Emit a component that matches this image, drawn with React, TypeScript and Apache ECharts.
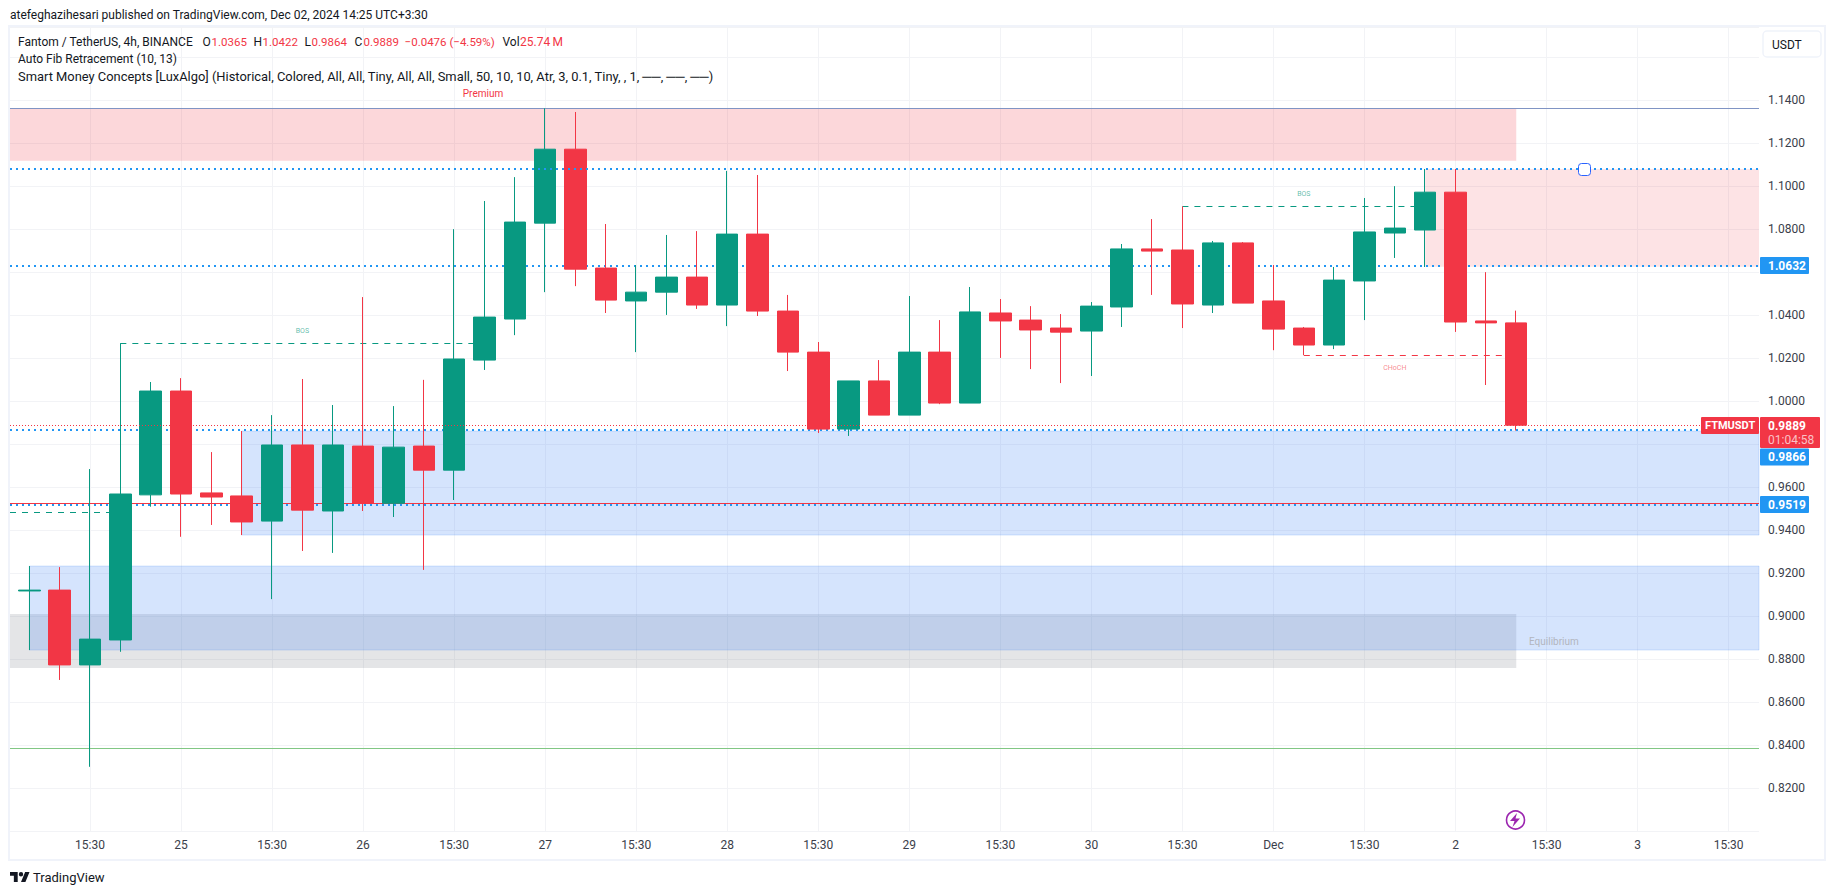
import React, { useEffect, useRef } from "react";
import * as echarts from "echarts";

// Candles, 4h FTM/USDT, oldest first
const opens = [0.9118, 0.9122, 0.8774, 0.889, 0.9565, 1.0048, 0.9574, 0.956, 0.9443, 0.9797, 0.949, 0.9792, 0.9526, 0.9792, 0.968, 1.0192, 1.0383, 1.0829, 1.1173, 1.062, 1.0467, 1.0508, 1.0578, 1.0448, 1.0778, 1.042, 1.0229, 0.9871, 1.0095, 0.9936, 1.0229, 0.9992, 1.0411, 1.0378, 1.0341, 1.0327, 1.0439, 1.0709, 1.0704, 1.0448, 1.0737, 1.0467, 1.0341, 1.0262, 1.056, 1.0783, 1.0797, 1.0973, 1.0374, 1.0365];
const closes = [0.9122, 0.8774, 0.8894, 0.9569, 1.0048, 0.9569, 0.9555, 0.9439, 0.9797, 0.9494, 0.9797, 0.9526, 0.9787, 0.968, 1.0197, 1.0392, 1.0834, 1.1173, 1.0615, 1.0471, 1.0508, 1.0578, 1.0448, 1.0778, 1.042, 1.0229, 0.9871, 1.0095, 0.9936, 1.0229, 0.9992, 1.0416, 1.0374, 1.0332, 1.0322, 1.0443, 1.0709, 1.0699, 1.0453, 1.0737, 1.0457, 1.0336, 1.0262, 1.0564, 1.0788, 1.0806, 1.0973, 1.0369, 1.0365, 0.9889];
const lows = [0.8843, 0.8704, 0.83, 0.8835, 0.951, 0.937, 0.9425, 0.9378, 0.908, 0.9304, 0.9295, 0.949, 0.9462, 0.9216, 0.9541, 1.0146, 1.0308, 1.0508, 1.0536, 1.0411, 1.0229, 1.0402, 1.043, 1.035, 1.0397, 1.0141, 0.9853, 0.9839, 0.9936, 0.9936, 0.9987, 0.9992, 1.0202, 1.015, 1.0085, 1.0118, 1.0346, 1.0495, 1.0341, 1.0411, 1.0457, 1.0238, 1.0215, 1.0243, 1.0378, 1.0667, 1.0625, 1.0323, 1.0076, 0.9864];
const highs = [0.9234, 0.9229, 0.9685, 1.027, 1.009, 1.0108, 0.9764, 0.9862, 0.9936, 1.0104, 0.9983, 1.0485, 0.9978, 1.01, 1.0801, 1.0932, 1.1043, 1.1363, 1.1346, 1.0825, 1.0634, 1.0774, 1.0792, 1.1072, 1.1053, 1.0495, 1.0276, 1.0095, 1.0192, 1.049, 1.0378, 1.0532, 1.0476, 1.0443, 1.0406, 1.0462, 1.0732, 1.0848, 1.0907, 1.0746, 1.0741, 1.0634, 1.0346, 1.0625, 1.0946, 1.1001, 1.1081, 1.1081, 1.0601, 1.0422];

// Time axis: candle positions that carry a label, and their labels
const xTickPositions = [2, 5, 8, 11, 14, 17, 20, 23, 26, 29, 32, 35, 38, 41, 44, 47, 50, 53, 56];
const xTickLabels = ["15:30", "25", "15:30", "26", "15:30", "27", "15:30", "28", "15:30", "29", "15:30", "30", "15:30", "Dec", "15:30", "2", "15:30", "3", "15:30"];
const xRange = [-0.636, 57];
const yRange = [0.8, 1.174];
// Price labels that the badges on the scale cover in the reference
const coveredPriceLabels = ["1.0600", "0.9800"];

// Levels
const blueLevelsBehind = [1.0632, 0.9866, 0.9519];
const blueLevelAbove = 1.1081;
const topLevel = 1.1363;
const redLevel = 0.9525;
const greenLevel = 0.8386;
const lastClose = 0.9889;

// Zones: [x from, x to, price top, price bottom]
const premiumZone = [xRange[0], 49, 1.1363, 1.1119];
const equilibriumZone = [xRange[0], 49, 0.9011, 0.876];
const supplyBlock = [46, xRange[1], 1.1081, 1.0626];
const demandBlocks = [
  [7, xRange[1], 0.9862, 0.9378],
  [0, xRange[1], 0.9234, 0.8843],
];

// Structure lines: [x from, x to, price]
const greenStructure = [
  [3, 15, 1.027],
  [38, 46, 1.0907],
  [xRange[0], 3, 0.9484],
];
const redStructure = [[42, 49, 1.0214]];

// Small chart labels: [x, price, text]
const bosLabels = [
  [9, 1.0325, "BOS"],
  [42, 1.0963, "BOS"],
];
const chochLabel = [45, 1.0157, "CHoCH"];

const GREEN = "#089981";
const RED = "#F23645";
const BLUE = "#2196F3";
const INK = "#131722";
const FONT = "Roboto, sans-serif";
const FRAME = "#F0F3FA";

const zoneArea = (z: number[], color: string, border?: string) => [
  {
    coord: [z[0], z[2]],
    itemStyle: border
      ? { color, borderColor: border, borderWidth: 1 }
      : { color, borderWidth: 0 },
  },
  { coord: [z[1], z[3]] },
];

const txt = (x: number, y: number, text: string, extra: any = {}) => ({
  type: "text",
  x,
  y,
  z: 101,
  silent: true,
  style: {
    text,
    fill: INK,
    font: `12px ${FONT}`,
    verticalAlign: "middle",
    ...extra,
  },
});

const badge = (x: number, y: number, w: number, h: number, fill: string) => ({
  type: "rect",
  z: 100,
  silent: true,
  shape: { x, y, width: w, height: h, r: 1 },
  style: { fill },
});

const LOGO =
  "M14 22H7V11H0V4h14v18zM28 22h-8l7.5-18h8L28 22zM24 8a4 4 0 1 1-8 0 4 4 0 0 1 8 0z";
const BOLT = "M10.5 2 L3.5 10 H8 L6 16 L13.5 7.5 H9 Z";

export default function App() {
  const ref = useRef<HTMLDivElement>(null);

  useEffect(() => {
    if (!ref.current) return;
    echarts.graphic.registerShape("tvlogo", echarts.graphic.extendPath(LOGO, {}) as any);
    echarts.graphic.registerShape("bolt", echarts.graphic.extendPath(BOLT, {}) as any);
    const chart = echarts.init(ref.current, undefined, { renderer: "svg" });

    const candleData = opens.map((o, i) => [i, o, closes[i], lows[i], highs[i]]);

    const chartOption: any = {
      animation: false,
      backgroundColor: "#ffffff",
      grid: { left: 10, right: 76, top: 27.3, bottom: 63.7, containLabel: false },
      xAxis: {
        type: "value",
        min: xRange[0],
        max: xRange[1],
        axisLine: { show: false },
        axisTick: { show: false, customValues: xTickPositions },
        splitLine: { show: true, customValues: xTickPositions, lineStyle: { color: "#F2F3F6", width: 1 } },
        axisLabel: {
          customValues: xTickPositions,
          formatter: (v: number) => xTickLabels[xTickPositions.indexOf(Math.round(v))] ?? "",
          color: "#3a3e4a",
          fontFamily: FONT,
          fontSize: 12,
          margin: 8,
          hideOverlap: false,
        },
      },
      yAxis: {
        type: "value",
        position: "right",
        min: yRange[0],
        max: yRange[1],
        interval: 0.02,
        axisLine: { show: false },
        axisTick: { show: false },
        splitLine: { show: true, lineStyle: { color: "#F2F3F6", width: 1 } },
        axisLabel: {
          formatter: (v: number) =>
            v < 0.81 || v > 1.15 || coveredPriceLabels.includes(v.toFixed(4)) ? "" : v.toFixed(4),
          color: "#3a3e4a",
          fontFamily: FONT,
          fontSize: 12,
          margin: 9,
        },
      },
      series: [
        {
          name: "Zones",
          type: "line",
          data: [],
          silent: true,
          markArea: {
            silent: true,
            z: 1,
            label: { show: false },
            data: [
              zoneArea(premiumZone, "rgba(242,54,69,0.2)"),
              zoneArea(supplyBlock, "rgba(242,54,69,0.14)"),
              zoneArea(equilibriumZone, "rgba(120,123,134,0.2)"),
              ...demandBlocks.map((b) => zoneArea(b, "rgba(66,133,244,0.22)", "rgba(66,133,244,0.2)")),
            ],
          },
          markLine: {
            silent: true,
            z: 1,
            symbol: "none",
            precision: 4,
            label: { show: false },
            data: [
              ...blueLevelsBehind.map((v) => ({
                yAxis: v,
                lineStyle: { color: BLUE, width: 2, type: [2, 4] },
              })),
              { yAxis: topLevel, lineStyle: { color: "#8094C4", width: 1, type: "solid" } },
              { yAxis: redLevel, lineStyle: { color: RED, width: 1, type: "solid" } },
              { yAxis: greenLevel, lineStyle: { color: "#81C784", width: 1, type: "solid" } },
              ...greenStructure.map((s) => [
                { coord: [s[0], s[2]], lineStyle: { color: GREEN, width: 1, type: [6, 6] } },
                { coord: [s[1], s[2]] },
              ]),
              ...redStructure.map((s) => [
                { coord: [s[0], s[2]], lineStyle: { color: RED, width: 1, type: [6, 6] } },
                { coord: [s[1], s[2]] },
              ]),
            ],
          },
        },
        {
          name: "FTMUSDT",
          type: "candlestick",
          data: candleData,
          encode: { x: 0, y: [1, 2, 3, 4] },
          barWidth: 22,
          z: 2,
          silent: true,
          itemStyle: {
            color: GREEN,
            color0: RED,
            borderColor: GREEN,
            borderColor0: RED,
            borderWidth: 1,
          },
        },
        {
          name: "Overlays",
          type: "line",
          data: [],
          silent: true,
          markLine: {
            silent: true,
            z: 5,
            symbol: "none",
            precision: 4,
            label: { show: false },
            data: [
              { yAxis: blueLevelAbove, lineStyle: { color: BLUE, width: 2, type: [2, 4] } },
              { yAxis: lastClose, lineStyle: { color: RED, width: 1, type: [1, 2] } },
            ],
          },
          markPoint: {
            silent: true,
            symbol: "circle",
            symbolSize: 0,
            data: [
              ...bosLabels.map((b) => ({
                coord: [b[0], b[1]],
                label: { show: true, position: "inside", formatter: String(b[2]), color: "rgba(8,153,129,0.65)", fontSize: 7, fontFamily: FONT },
              })),
              {
                coord: [chochLabel[0], chochLabel[1]],
                label: { show: true, position: "inside", formatter: String(chochLabel[2]), color: "rgba(242,54,69,0.6)", fontSize: 7, fontFamily: FONT },
              },
            ],
          },
        },
      ],
      graphic: [
        // outer frame
        {
          type: "rect",
          z: 99,
          silent: true,
          shape: { x: 9, y: 26, width: 1816, height: 834 },
          style: { fill: "none", stroke: FRAME, lineWidth: 2 },
        },
        // publication line
        txt(10, 15, "atefeghazihesari published on TradingView.com, Dec 02, 2024 14:25 UTC+3:30"),
        // legend
        txt(18, 42, "Fantom / TetherUS, 4h, BINANCE"),
        ...[
          [202.5, "O", "1.0365"],
          [253.6, "H", "1.0422"],
          [304.6, "L", "0.9864"],
          [354.6, "C", "0.9889"],
        ].flatMap((p: any) => [
          txt(p[0], 42, p[1]),
          txt(p[0] + (p[1] === "L" ? 7 : 9), 42, p[2], { fill: RED, font: `11.5px ${FONT}` }),
        ]),
        txt(404.6, 42, "\u22120.0476 (\u22124.59%)", { fill: RED, font: `11.5px ${FONT}` }),
        txt(502.5, 42, "Vol"),
        txt(520, 42, "25.74\u2009M", { fill: RED }),
        txt(18, 59, "Auto Fib Retracement (10, 13)", { font: `12px ${FONT}` }),
        txt(18, 76, "Smart Money Concepts [LuxAlgo] (Historical, Colored, All, All, Tiny, All, All, Small, 50, 10, 10, Atr, 3, 0.1, Tiny, , 1, \u2500\u2500, \u2500\u2500, \u2500\u2500)", { font: `12.9px ${FONT}` }),
        txt(483, 93, "Premium", { fill: RED, font: `10px ${FONT}`, align: "center" }),
        txt(1529, 641, "Equilibrium", { fill: "#B2B5BE", font: `10px ${FONT}` }),
        // currency button
        {
          type: "rect",
          z: 100,
          silent: true,
          shape: { x: 1763, y: 31, width: 58, height: 26, r: 4 },
          style: { fill: "#fff", stroke: FRAME, lineWidth: 1.5 },
        },
        txt(1772, 44.5, "USDT"),
        // price badges
        badge(1760, 257, 49, 17, BLUE),
        txt(1768, 265.5, "1.0632", { fill: "#fff", font: `bold 12px ${FONT}` }),
        badge(1701, 417, 58, 17, RED),
        txt(1705, 425.8, "FTMUSDT", { fill: "#fff", font: `bold 11px ${FONT}` }),
        badge(1760, 417, 60, 31, RED),
        txt(1768, 425.8, "0.9889", { fill: "#fff", font: `bold 12px ${FONT}` }),
        txt(1768, 439.5, "01:04:58", { fill: "rgba(255,255,255,0.7)" }),
        badge(1760, 448.5, 49, 17, BLUE),
        txt(1768, 457, "0.9866", { fill: "#fff", font: `bold 12px ${FONT}` }),
        badge(1760, 496, 49, 17, BLUE),
        txt(1768, 504.5, "0.9519", { fill: "#fff", font: `bold 12px ${FONT}` }),
        // drawing handle
        {
          type: "rect",
          z: 100,
          silent: true,
          shape: { x: 1578.5, y: 163.5, width: 12, height: 12, r: 3 },
          style: { fill: "#fff", stroke: "#2962FF", lineWidth: 1 },
        },
        // event icon
        {
          type: "circle",
          z: 100,
          silent: true,
          shape: { cx: 1515.5, cy: 820, r: 9 },
          style: { fill: "#fff", stroke: "#9C27B0", lineWidth: 1.6 },
        },
        { type: "bolt", z: 101, silent: true, x: 1506.5, y: 811, style: { fill: "#9C27B0" } },
        // logo
        { type: "tvlogo", z: 101, silent: true, x: 10, y: 869.8, scaleX: 0.55, scaleY: 0.55, style: { fill: INK } },
        txt(33, 877, "TradingView", { font: `13px ${FONT}` }),
      ],
    };

    chart.setOption(chartOption);
    return () => chart.dispose();
  }, []);

  return (
    <div
      ref={ref}
      style={{ position: "fixed", left: 0, top: 0, width: 1835, height: 895, background: "#fff" }}
    />
  );
}
